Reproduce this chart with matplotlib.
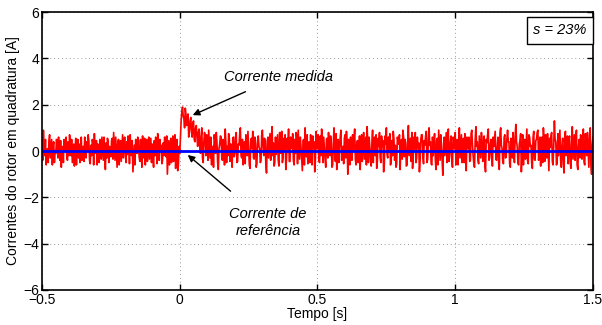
import numpy as np
import matplotlib
matplotlib.use('Agg')
import matplotlib.pyplot as plt

plt.rcParams['font.family'] = ['Liberation Sans', 'DejaVu Sans']

############################################### data
dt = 0.005
# measured current on the 5 ms grid, before the step, t = -0.5 ... -0.005
pre_i = [0.6, 0.9, -0.2, -0.6, 0.1, 0.4, -0.3, 0.5, 0.2, -0.5,
         -0.1, 0.3, 0.6, -0.4, -0.7, 0.2, 0.5, 0.0, -0.3, 0.4,
         0.7, -0.2, -0.5, 0.3, 0.1, -0.6, 0.5, 0.3, -0.1, -0.4,
         0.2, 0.6, -0.3, 0.0, 0.45, -0.55, -0.2, 0.35, 0.75, -0.1,
         -0.6, 0.25, 0.5, -0.35, 0.1, 0.6, -0.8, -0.3, 0.4, 0.2,
         -0.25, 0.55, 0.8, -0.4, -0.1, 0.3, -0.6, 0.45, 0.15, -0.3,
         0.6, -0.5, -0.15, 0.35, 0.7, -0.2, -0.9, 0.25, 0.5, -0.1,
         0.4, -0.45, 0.1, 0.65, -0.3, -0.6, 0.5, 0.2, -0.35, 0.55,
         0.3, -0.7, -0.2, 0.4, 0.75, -0.4, 0.1, -0.55, 0.35, 0.6,
         -0.25, -1.0, 0.45, 0.2, -0.5, 0.65, -0.3, -0.75, 0.5, -0.6]
# transient after the step, t = 0 ... 0.095
step_i = [-0.1, 1.3, 1.9, 1.4, 1.85, 1.1, 1.6, 0.8, 1.45, 0.6,
          1.3, 0.4, 1.1, 0.2, 0.95, -0.1, 1.0, -0.5, 0.8, -0.2]
# steady state, t = 0.1 ... 1.5
post_i = [0.5, 0.9, -0.3, -0.6, 0.2, 0.7, -0.1, 0.4, -0.8, 0.3, 0.6, -0.4, 0.1, 0.95, -0.5, -0.2, 0.5, 0.3, -0.7, 0.6,
          -0.1, 0.8, -0.45, 0.25, 1.0, -0.3, -0.6, 0.4, 0.7, -0.2, 0.15, -0.75, 0.55, 0.85, -0.35, 0.3, -0.55, 0.65, 0.1, -0.4,
          0.9, -0.2, 0.45, -0.95, 0.6, 0.2, -0.4, 1.05, 0.35, -0.5, -0.15, 0.7, -0.65, 0.4, 0.85, -0.3, 0.1, -0.8, 0.55, 0.95,
          -0.45, 0.3, 0.75, -0.6, -0.1, 0.6, 0.9, -0.35, 0.2, -0.85, 0.5, 1.0, -0.25, -0.55, 0.4, 0.7, -0.6, 0.15, -0.9, 0.85,
          0.3, -0.4, 0.65, 0.95, -0.5, 0.1, -0.7, 0.55, 0.8, -0.2, 0.35, -0.6, 1.0, -0.45, -0.8, 0.5, 0.2, 0.9, -0.3, -0.55,
          0.7, 0.85, -1.0, 0.25, 0.6, -0.4, 0.05, 0.95, -0.6, 0.45, -0.25, -0.8, 0.7, 0.3, -0.35, 0.6, 1.05, -0.5, 0.15, -0.65,
          0.9, 0.4, -0.2, -0.75, 0.55, 0.8, -0.5, 0.2, -0.9, 0.65, 1.0, -0.3, 0.1, -0.6, 0.45, 0.85, -0.4, -0.7, 0.6, 0.3,
          -0.8, 0.5, 0.9, -0.25, 0.35, -0.6, 1.1, 0.2, -0.45, -0.75, 0.6, 0.8, -0.3, 0.15, -0.9, 0.5, 0.7, -0.55, 0.25, 0.85,
          -0.35, 1.0, 0.4, -0.6, -0.2, 0.75, -0.8, 0.55, 0.9, -0.4, 0.1, -1.05, 0.6, 0.3, -0.5, 0.95, -0.15, 0.65, -0.7, 0.45,
          0.8, -0.3, -0.6, 1.0, 0.2, -0.5, 0.55, 0.75, -0.85, 0.3, 0.6, -0.4, 0.9, -0.2, -0.7, 1.05, 0.4, -0.55, 0.15, 0.8,
          -0.45, 0.65, -0.9, 0.35, 0.95, -0.3, 0.5, -0.65, 0.2, 0.85, -0.4, 0.6, -0.8, 1.0, 0.1, -0.55, 0.7, -0.25, 0.9, 0.4,
          -0.7, 0.3, 0.8, -0.5, 1.15, 0.2, -0.6, 0.45, -0.9, 0.7, 0.1, -0.35, 0.95, -0.55, 0.6, 0.25, -0.75, 0.85, -0.4, 0.5,
          0.9, -0.2, -0.65, 0.6, 1.0, -0.45, 0.3, 0.75, -0.85, 0.15, 0.8, -0.6, 1.3, 0.4, -0.5, -0.2, 0.9, -0.7, 0.55, -0.95,
          0.85, 0.3, -0.55, 0.65, -0.75, 1.05, 0.2, -0.4, 0.9, -0.8, 0.5, 0.7, -0.35, 0.95, -0.6, 0.4, 0.8, -0.7, 1.0, -1.0,
          0.6]
# samples half way between the ones above (t + 2.5 ms)
pre_mid = [-0.4, 0.2, 0.5, -0.1, -0.5, 0.7, 0.1, -0.6, 0.4, 0.0,
           0.5, -0.3, -0.2, 0.45, 0.1, -0.5, 0.3, 0.6, -0.4, -0.2,
           0.35, 0.5, -0.1, -0.65, 0.55, 0.2, -0.3, -0.5, 0.6, 0.15,
           -0.45, -0.1, 0.4, 0.7, -0.4, 0.25, 0.5, -0.6, 0.1, 0.45,
           0.3, -0.5, -0.15, 0.6, -0.4, -0.2, 0.35, 0.55, -0.5, -0.05,
           0.45, -0.35, 0.2, 0.6, -0.7, 0.5, 0.0, -0.45, 0.7, 0.25,
           -0.2, 0.4, 0.65, -0.55, 0.1, 0.45, -0.3, -0.6, 0.3, 0.6,
           -0.25, 0.5, -0.7, -0.1, 0.55, 0.35, -0.45, 0.6, 0.1, -0.5,
           -0.3, 0.45, 0.6, -0.55, -0.1, 0.5, 0.25, -0.4, -0.2, 0.4,
           0.65, -0.3, -0.6, 0.55, 0.3, -0.45, 0.7, 0.1, -0.85, 0.2]
step_mid = [0.6, 1.7, 1.5, 1.0, 1.6, 1.4, 0.6, 1.3, 0.9, 1.2,
            0.5, 1.0, 0.6, 0.8, 0.3, 0.6, -0.3, 0.4, 0.5, 0.7]
post_mid = [-0.4, 0.3, 0.6, -0.2, -0.7, 0.45, 0.8, -0.5, 0.1, 0.65, -0.3, 0.5, -0.6, 0.35, 0.2, 0.75, -0.45, -0.1, 0.55, -0.25,
            0.6, -0.5, 0.3, 0.7, -0.2, 0.5, 0.2, -0.55, -0.1, 0.85, -0.6, 0.4, 0.1, -0.3, 0.6, -0.7, 0.45, 0.2, -0.5, 0.7,
            0.2, 0.55, -0.6, 0.4, -0.3, 0.75, 0.5, -0.2, -0.65, 0.6, 0.3, -0.4, 0.8, -0.1, -0.5, 0.55, 0.7, -0.35, 0.1, -0.45,
            0.6, 0.1, -0.4, 0.5, 0.8, -0.55, 0.25, 0.6, -0.3, 0.45, -0.6, 0.2, 0.7, 0.35, -0.5, -0.2, 0.65, 0.4, -0.35, 0.1,
            0.7, -0.5, -0.2, 0.45, 0.6, -0.35, 0.5, -0.3, 0.25, 0.65, -0.7, 0.3, -0.1, 0.75, 0.4, -0.5, 0.6, -0.4, 0.2, 0.55,
            -0.3, 0.4, 0.5, -0.6, -0.1, 0.7, 0.55, -0.35, 0.3, -0.5, 0.65, 0.2, -0.45, 0.8, 0.1, -0.6, 0.4, 0.6, -0.3, 0.35,
            -0.5, 0.6, 0.7, -0.4, 0.2, -0.3, 0.65, 0.45, -0.6, 0.3, -0.15, 0.6, 0.75, -0.45, -0.2, 0.5, 0.25, -0.55, 0.4, 0.7,
            0.15, -0.35, 0.6, 0.5, -0.65, 0.4, -0.2, 0.55, 0.8, -0.3, 0.1, -0.5, 0.6, 0.35, -0.4, 0.7, -0.25, 0.45, 0.65, -0.5,
            0.5, 0.25, -0.55, 0.6, 0.35, -0.3, 0.45, -0.6, 0.2, 0.7, -0.4, 0.3, -0.2, 0.8, 0.55, -0.45, 0.4, -0.35, 0.6, 0.1,
            -0.6, 0.5, 0.35, -0.3, 0.7, 0.45, -0.5, -0.2, 0.6, 0.1, -0.45, 0.75, 0.3, -0.55, 0.5, 0.2, -0.4, 0.65, -0.3, 0.45,
            0.2, -0.6, 0.5, 0.7, -0.4, 0.3, -0.2, 0.6, 0.55, -0.35, 0.15, -0.5, 0.8, 0.25, -0.45, 0.6, -0.3, 0.5, 0.4, -0.55,
            0.55, -0.3, -0.1, 0.65, 0.4, -0.5, 0.3, 0.75, -0.25, -0.6, 0.5, 0.35, -0.4, 0.7, 0.2, -0.5, 0.6, -0.35, 0.45, 0.8,
            -0.4, 0.6, 0.3, -0.5, 0.45, 0.7, -0.3, -0.1, 0.55, 0.65, -0.45, 0.2, 0.5, -0.6, 0.75, 0.35, -0.4, 0.25, -0.55, 0.6,
            -0.2, 0.65, 0.45, -0.5, 0.3, -0.35, 0.7, 0.55, -0.6, 0.2, -0.3, 0.6, 0.4, -0.45, 0.75, -0.2, 0.1, 0.5, -0.6, 0.3]
ref_t = [-0.5, 1.5]
ref_i = [0.0, 0.0]

xticks = [-0.5, 0, 0.5, 1, 1.5]
xtick_labels = ['\u22120.5', '0', '0.5', '1', '1.5']
yticks = [-6, -4, -2, 0, 2, 4, 6]
ytick_labels = ['\u22126', '\u22124', '\u22122', '0', '2', '4', '6']

main = np.array(pre_i + step_i + post_i)
mid = np.array(pre_mid + step_mid + post_mid)
meas_i = np.empty(len(main) + len(mid))
meas_i[0::2] = main
meas_i[1::2] = mid
t = -0.5 + dt/2*np.arange(len(meas_i))

############################################### plot
fig = plt.figure(figsize=(6.02, 3.25), dpi=100)
ax = fig.add_axes([0.0698, 0.1077, 0.9152, 0.8553])

ax.plot(t, meas_i, color='red', lw=1.2)
ax.plot(ref_t, ref_i, color='blue', lw=2.0)

ax.set_xlim(-0.5, 1.5)
ax.set_ylim(-6, 6)
ax.set_xticks(xticks)
ax.set_xticklabels(xtick_labels)
ax.set_yticks(yticks)
ax.set_yticklabels(ytick_labels)
ax.tick_params(direction='in', length=4, width=1, labelsize=10, pad=2,
               top=True, right=True)
ax.grid(True, linestyle=(0, (1, 3)), color='#999999', lw=0.7)
for sp in ax.spines.values():
    sp.set_linewidth(1.2)

ax.set_xlabel('Tempo [s]', fontsize=10, labelpad=0)
ax.set_ylabel('Correntes do rotor em quadratura [A]', fontsize=10, labelpad=2)

ax.annotate('Corrente medida', xy=(0.047, 1.55), xytext=(0.36, 3.2),
            fontsize=10.5, style='italic', ha='center', va='center',
            arrowprops=dict(arrowstyle='-|>', color='black', lw=1.0,
                            shrinkA=9, shrinkB=0, mutation_scale=10))
ax.annotate('Corrente de\nreferência', xy=(0.029, -0.17), xytext=(0.32, -3.1),
            fontsize=10.5, style='italic', ha='center', va='center',
            linespacing=1.25,
            arrowprops=dict(arrowstyle='-|>', color='black', lw=1.0,
                            shrinkA=15, shrinkB=0, mutation_scale=10))

ax.text(0.94, 0.935, 's = 23%', transform=ax.transAxes, fontsize=10.5,
        style='italic', ha='center', va='center',
        bbox=dict(boxstyle='square,pad=0.45', fc='white', ec='black', lw=1.0))

fig.savefig('out.png', dpi=100)
